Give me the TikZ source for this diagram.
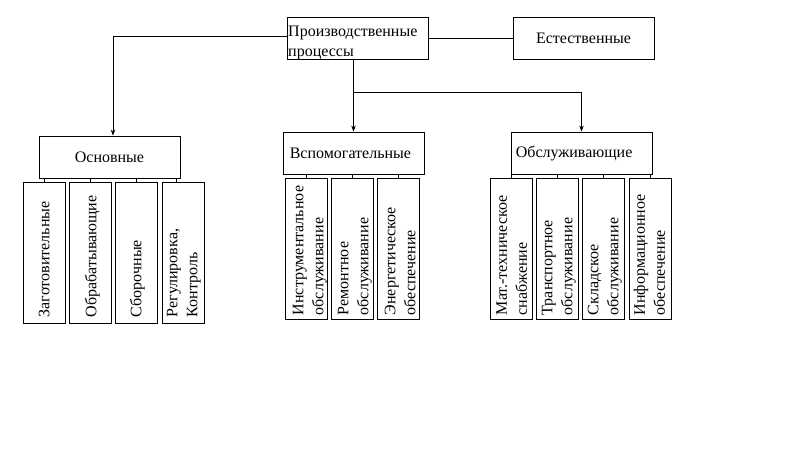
\documentclass[tikz,border=0pt]{standalone}
\usepackage{fontspec}
\setmainfont{Liberation Serif}
\usetikzlibrary{arrows.meta,calc}
\begin{document}
\begin{tikzpicture}[x=1pt,y=-1pt,
  box/.style={draw, line width=0.8pt, inner sep=0pt, minimum width=141pt, minimum height=42pt, font=\fontsize{16}{20}\selectfont},
  sbox/.style={draw, line width=0.8pt, inner sep=0pt, minimum width=42pt, minimum height=141pt},
  lbl/.style={font=\fontsize{16}{20}\selectfont, inner sep=0pt},
  vtxt/.style={lbl, rotate=90, anchor=north west, align=left},
  conn/.style={line width=0.8pt},
  arr/.style={conn, -{Stealth[length=6pt,width=4.5pt]}}]
\fill[white] (0,0) rectangle (795,456);
\useasboundingbox (0,0) rectangle (795,456);

% main boxes
\node[box] (top) at (357.5,38) {};
\node[lbl, anchor=north west, align=left] (topt) at (288,26) {Производственные\\процессы};
\node[box] (nat) at (583.5,38) {Естественные};
\node[box] (osn) at (109.5,157) {Основные};
\node[box] (vsp) at (353.5,153) {};
\node[lbl, anchor=west] (vspt) at ($(vsp.west)+(7,0)$) {Вспомогательные};
\node[box] (obs) at (581.5,153) {};
\node[lbl, anchor=west] (obst) at ($(obs.west)+(5,0)$) {Обслуживающие};

% sub boxes: Основные
\node[sbox] (o1) at (44,252.5) {};
\node[sbox] (o2) at (90,252.5) {};
\node[sbox] (o3) at (136,252.5) {};
\node[sbox] (o4) at (183,252.5) {};
\node[vtxt] (o1t) at ($(o1.south west)+(16,-6)$) {Заготовительные};
\node[vtxt] (o2t) at ($(o2.south west)+(16,-6)$) {Обрабатывающие};
\node[vtxt] (o3t) at ($(o3.south west)+(15,-6)$) {Сборочные};
\node[vtxt] (o4t) at ($(o4.south west)+(5,-6)$) {Регулировка,\\Контроль};

% sub boxes: Вспомогательные
\node[sbox] (v1) at (306,248.5) {};
\node[sbox] (v2) at (352,248.5) {};
\node[sbox] (v3) at (398,248.5) {};
\node[vtxt] (v1t) at ($(v1.south west)+(8,-4)$) {Инструментальное\\обслуживание};
\node[vtxt] (v2t) at ($(v2.south west)+(7,-4)$) {Ремонтное\\обслуживание};
\node[vtxt] (v3t) at ($(v3.south west)+(8,-4)$) {Энергетическое\\обеспечение};

% sub boxes: Обслуживающие
\node[sbox] (s1) at (511.5,248.5) {};
\node[sbox] (s2) at (557,248.5) {};
\node[sbox] (s3) at (603,248.5) {};
\node[sbox] (s4) at (650,248.5) {};
\node[vtxt] (s1t) at ($(s1.south west)+(6,-4)$) {Мат.-техническое\\снабжение};
\node[vtxt] (s2t) at ($(s2.south west)+(6,-4)$) {Транспортное\\обслуживание};
\node[vtxt] (s3t) at ($(s3.south west)+(6,-4)$) {Складское\\обслуживание};
\node[vtxt] (s4t) at ($(s4.south west)+(5,-4)$) {Информационное\\обеспечение};

% connectors
\coordinate (tw) at ($(top.west)+(0,-2)$);
\coordinate (osnin) at ($(osn.north)+(3.5,0)$);
\draw[conn] (top.east) -- (nat.west);
\draw[arr] (tw) -| (osnin);
\draw[arr] (top.south -| vsp.north) -- (vsp.north);
\coordinate (br) at ($(vsp.north)+(0,-39)$);
\draw[arr] (br) -| (obs.north);

% stubs
\coordinate (o4s) at ($(o4.north)+(-7,0)$);
\draw[conn] (osn.south -| o1.north) -- (o1.north);
\draw[conn] (osn.south -| o2.north) -- (o2.north);
\draw[conn] (osn.south -| o3.north) -- (o3.north);
\draw[conn] (osn.south -| o4s) -- (o4s);
\draw[conn] (vsp.south -| v1.north) -- (v1.north);
\draw[conn] (vsp.south -| v2.north) -- (v2.north);
\draw[conn] (vsp.south -| v3.north) -- (v3.north);
\draw[conn] (obs.south -| s1.north) -- (s1.north);
\draw[conn] (obs.south -| s2.north) -- (s2.north);
\draw[conn] (obs.south -| s3.north) -- (s3.north);
\draw[conn] (obs.south -| s4.north) -- (s4.north);
\end{tikzpicture}
\end{document}
